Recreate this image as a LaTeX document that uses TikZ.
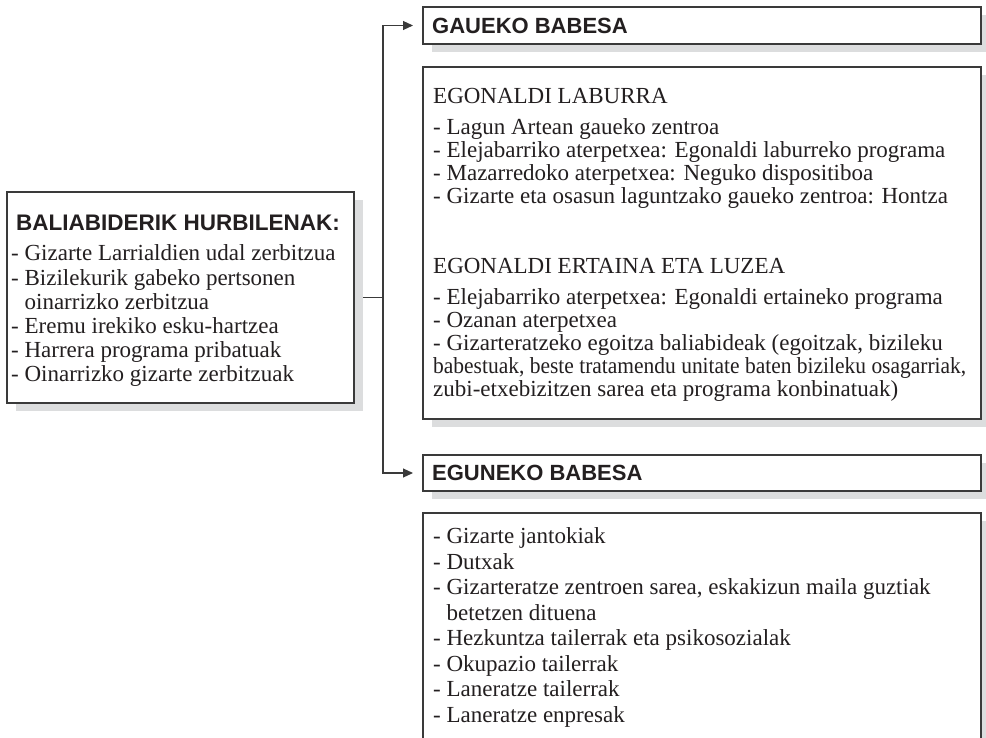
\documentclass[tikz,border=0pt]{standalone}
\usepackage{fontspec}
\setmainfont{Liberation Serif}
\setsansfont{Liberation Sans}
\usepackage{graphicx}
\usetikzlibrary{shadows,arrows.meta}
\definecolor{linec}{HTML}{3A3A3A}
\definecolor{textc}{HTML}{231F20}
\definecolor{shadowc}{HTML}{DCDDDE}
\begin{document}
\begin{tikzpicture}[x=1pt,y=-1pt,
  box/.style={draw=linec, line width=1.1pt, fill=white, inner sep=0pt, outer sep=0pt,
    anchor=north west,
    drop shadow={shadow xshift=9pt, shadow yshift=-8pt, fill=shadowc, opacity=1}},
  ttl/.style={font=\sffamily\bfseries\fontsize{22}{24}\selectfont, text=textc,
    inner sep=0pt, anchor=west},
  body/.style={text=textc, inner sep=0pt, anchor=base west},
  conn/.style={draw=linec, line width=1.1pt},
  arr/.style={conn, -{Triangle[length=10pt,width=9pt]}, shorten >=10pt}]
\clip (0,0) rectangle (986,738);

% boxes
\node[box, minimum width=347pt, minimum height=211pt] (hurbil) at (7,192) {};
\node[box, minimum width=558pt, minimum height=37pt]  (gaueko) at (423,7) {};
\node[box, minimum width=558pt, minimum height=352pt] (gaueklist) at (423,67) {};
\node[box, minimum width=558pt, minimum height=36pt]  (eguneko) at (423,455) {};
\node[box, minimum width=558pt, minimum height=280pt] (egunlist) at (423,513) {};

% titles
\node[ttl] (gaueko-t) at ([xshift=9pt]gaueko.west) {GAUEKO BABESA};
\node[ttl] (eguneko-t) at ([xshift=9pt]eguneko.west) {EGUNEKO BABESA};

% left box text
\node[body, font=\fontsize{23}{24.2}\selectfont] (hurbil-t) at (11,231) {%
\begin{tabular}[t]{@{}l@{}}
\hspace{5pt}{\sffamily\bfseries\fontsize{22.5}{24}\selectfont BALIABIDERIK HURBILENAK:}\\[5.8pt]
- Gizarte Larrialdien udal zerbitzua\\
- Bizilekurik gabeko pertsonen\\
\hphantom{- }oinarrizko zerbitzua\\
- Eremu irekiko esku-hartzea\\
- Harrera programa pribatuak\\
- Oinarrizko gizarte zerbitzuak
\end{tabular}};

% night list
\node[body, font=\fontsize{23}{23}\selectfont] (gaueklist-t) at (433,104) {%
\begin{tabular}[t]{@{}l@{}}
EGONALDI LABURRA\\[8pt]
- Lagun Artean gaueko zentroa\\
- Elejabarriko aterpetxea: Egonaldi laburreko programa\\
- Mazarredoko aterpetxea: Neguko dispositiboa\\
- Gizarte eta osasun laguntzako gaueko zentroa: Hontza\\[47pt]
EGONALDI ERTAINA ETA LUZEA\\[8pt]
- Elejabarriko aterpetxea: Egonaldi ertaineko programa\\
- Ozanan aterpetxea\\
- Gizarteratzeko egoitza baliabideak (egoitzak, bizileku\\
\resizebox{533pt}{\height}{babestuak, beste tratamendu unitate baten bizileku osagarriak,}\\
zubi-etxebizitzen sarea eta programa konbinatuak)
\end{tabular}};

% day list
\node[body, font=\fontsize{23}{25.5}\selectfont] (egunlist-t) at (433,543.6) {%
\begin{tabular}[t]{@{}l@{}}
- Gizarte jantokiak\\
- Dutxak\\
- Gizarteratze zentroen sarea, eskakizun maila guztiak\\
\hphantom{- }betetzen dituena\\
- Hezkuntza tailerrak eta psikosozialak\\
- Okupazio tailerrak\\
- Laneratze tailerrak\\
- Laneratze enpresak
\end{tabular}};

% connectors
\coordinate (jx) at (383,0);
\coordinate (j) at (hurbil.east -| jx);
\draw[conn, shorten <=9pt] (hurbil.east) -- (j);
\draw[arr] (j) |- (gaueko.west);
\draw[arr] (j) |- (eguneko.west);
\end{tikzpicture}
\end{document}
